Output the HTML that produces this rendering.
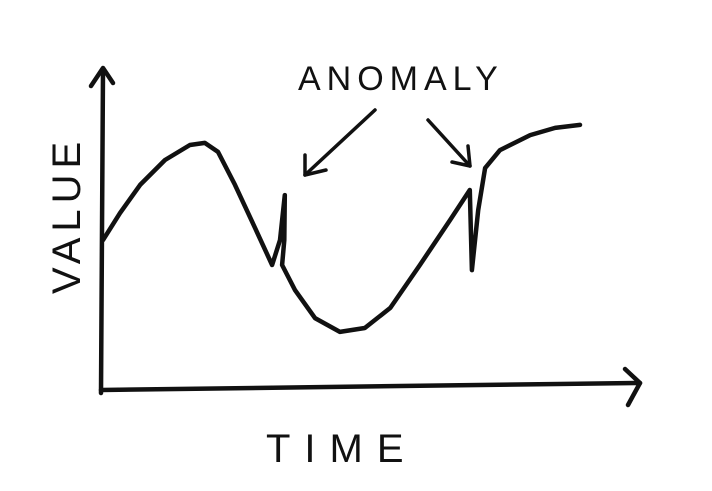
<!DOCTYPE html>
<html><head><meta charset="utf-8"><style>
html,body{margin:0;padding:0;background:#fff;}
svg{display:block;}
text{font-family:"Liberation Sans",sans-serif;fill:#111;}
</style></head><body>
<svg id="chart" width="712" height="491" viewBox="0 0 712 491" xmlns="http://www.w3.org/2000/svg">
<g stroke="#111" stroke-width="4.5" fill="none" stroke-linecap="round" stroke-linejoin="round">
<path d="M101,393 L102,230 L103,70"/>
<path d="M91,86 L103,68 L113,83"/>
</g>
<g stroke="#111" stroke-width="4.5" fill="none" stroke-linecap="round" stroke-linejoin="round">
<path d="M101,390 L400,386 L640,383"/>
<path d="M625,369 L640,383 L628,405"/>
</g>
<text transform="translate(80,294) rotate(-90)" font-size="40" letter-spacing="6">VALUE</text>
<text x="266" y="462" font-size="40" letter-spacing="14">TIME</text>
<text x="298" y="90" font-size="34" letter-spacing="6">ANOMALY</text>
<g stroke="#111" stroke-width="3.5" fill="none" stroke-linecap="round" stroke-linejoin="round">
<path d="M375,110 L305,175"/>
<path d="M305,155 L305,175 L326,170"/>
<path d="M428,120 L470,166"/>
<path d="M452,162 L470,166 L468,146"/>
</g>
<g id="series"></g>
</svg>
<script>
const times = [0,3.2,7.0,11.7,16.4,19.2,21.7,24.9,28.7,31.9,33.4,34.3,34.2,33.8,36.2,40.0,44.7,49.4,54.2,59.8,65.5,69.2,69.6,70.8,72.1,74.9,80.6,85.3,90.0];
const values = [48.3,57.3,66.7,75,80,80.7,77.7,66.7,52.3,40,48.3,63.3,48.3,40,31.7,22.3,17.7,19,25.7,40,55,65,38.3,58.3,72.3,78.3,83.3,85.7,86.7];
function xScale(t){return 103 + t*5.3;}
function yScale(v){return 385 - v*3;}
const g = document.getElementById('series');
let d = '';
for (let i=0;i<times.length;i++){ d += (i?'L':'M') + xScale(times[i]).toFixed(1) + ',' + yScale(values[i]).toFixed(1) + ' '; }
const p = document.createElementNS('http://www.w3.org/2000/svg','path');
p.setAttribute('d', d);
p.setAttribute('fill','none');
p.setAttribute('stroke','#111');
p.setAttribute('stroke-width','4.5');
p.setAttribute('stroke-linejoin','round');
p.setAttribute('stroke-linecap','round');


g.appendChild(p);
</script>
</body></html>
